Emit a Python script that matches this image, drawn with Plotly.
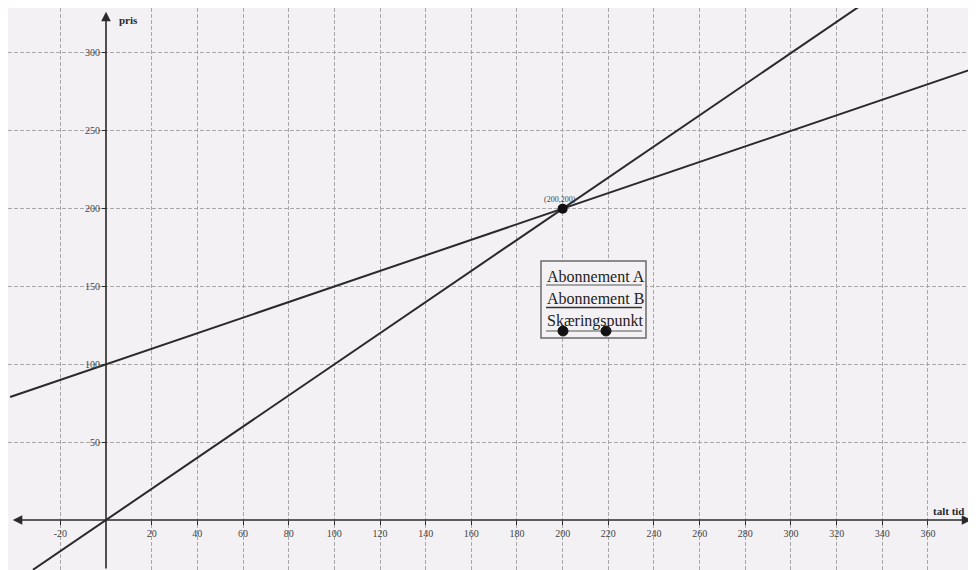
import plotly.graph_objects as go

# ---- data ----
x_ticks = [-20, 20, 40, 60, 80, 100, 120, 140, 160, 180, 200, 220, 240, 260, 280, 300, 320, 340, 360]
y_ticks = [50, 100, 150, 200, 250, 300]

abon_a_x = [-42, 382]
abon_a_y = [79, 291]
abon_b_x = [-32, 336]
abon_b_y = [-32, 336]

skaering_x = [200]
skaering_y = [200]
skaering_label = "(200,200)"

legend_labels = ["Abonnement A", "Abonnement B", "Skæringspunkt"]
x_title = "talt tid"
y_title = "pris"

# the page body has an 8px margin; the figure fills the rest of the window
OFF = 8
W, H = 976 - OFF, 570 - OFF
X0PX, XSC = 106.0, 2.2833   # window px of x=0, px per unit
Y0PX, YSC = 520.0, 1.5567   # window px of y=0, px per unit
XR = [(OFF - X0PX) / XSC, (976 - X0PX) / XSC]
YR = [(Y0PX - 570) / YSC, (Y0PX - OFF) / YSC]

BG = "#f3f1f4"
INK = "#2a2a2a"
GRID = "#a8a8a8"
SERIF = "Liberation Serif, Times New Roman, serif"

def pxp(p):   # window pixel x -> paper
    return (p - OFF) / W

def pyp(p):   # window pixel y -> paper
    return 1 - (p - OFF) / H

fig = go.Figure()

fig.add_trace(go.Scatter(x=abon_a_x, y=abon_a_y, mode="lines", name=legend_labels[0],
                         line=dict(color=INK, width=2), showlegend=False, hoverinfo="skip"))
fig.add_trace(go.Scatter(x=abon_b_x, y=abon_b_y, mode="lines", name=legend_labels[1],
                         line=dict(color=INK, width=2), showlegend=False, hoverinfo="skip"))
fig.add_trace(go.Scatter(x=skaering_x, y=skaering_y, mode="markers", name=legend_labels[2],
                         marker=dict(color="#111", size=10), showlegend=False, hoverinfo="skip"))

annotations = []
# axis lines with arrows
annotations.append(dict(x=379.0, y=0, ax=-41.5, ay=0, xref="x", yref="y", axref="x", ayref="y",
                        showarrow=True, arrowhead=2, arrowside="end+start", arrowsize=1.2,
                        arrowwidth=1.6, arrowcolor=INK, text=""))
annotations.append(dict(x=0, y=326.5, ax=0, ay=YR[0], xref="x", yref="y", axref="x", ayref="y",
                        showarrow=True, arrowhead=2, arrowsize=1.2, arrowwidth=1.6,
                        arrowcolor=INK, text=""))
# axis titles
annotations.append(dict(x=pxp(117), y=pyp(20), xref="paper", yref="paper", text="<b>" + y_title + "</b>",
                        showarrow=False, xanchor="left", yanchor="middle",
                        font=dict(family=SERIF, size=11, color=INK)))
annotations.append(dict(x=pxp(966), y=pyp(511), xref="paper", yref="paper", text="<b>" + x_title + "</b>",
                        showarrow=False, xanchor="right", yanchor="middle",
                        font=dict(family=SERIF, size=11, color=INK)))
# point label
annotations.append(dict(x=skaering_x[0], y=skaering_y[0], xref="x", yref="y", text=skaering_label,
                        showarrow=False, xanchor="center", yanchor="bottom", xshift=-3, yshift=3,
                        font=dict(family=SERIF, size=8, color="#444")))

shapes = []
# legend box
bx0, bx1, by0, by1 = 541, 646, 261, 338
shapes.append(dict(type="rect", xref="paper", yref="paper", x0=pxp(bx0), x1=pxp(bx1),
                   y0=pyp(by1), y1=pyp(by0), line=dict(color="#6a6a6a", width=1.5),
                   fillcolor=BG, layer="above"))
rows = [(276.5, 285.0, "#8a8a8a"), (298.5, 307.5, "#333333"), (320.5, 331.0, "#8a8a8a")]
for (ty, ly, lc), lab in zip(rows, legend_labels):
    annotations.append(dict(x=pxp(545), y=pyp(ty), xref="paper", yref="paper", text=lab,
                            showarrow=False, xanchor="left", yanchor="middle",
                            font=dict(family=SERIF, size=16, color="#222")))
    shapes.append(dict(type="line", xref="paper", yref="paper", x0=pxp(546), x1=pxp(642),
                       y0=pyp(ly), y1=pyp(ly), line=dict(color=lc, width=1.5), layer="above"))
for cx in (563, 606):
    r = 5
    shapes.append(dict(type="circle", xref="paper", yref="paper", x0=pxp(cx - r), x1=pxp(cx + r),
                       y0=pyp(331 + r), y1=pyp(331 - r),
                       line=dict(color="#111", width=1), fillcolor="#111", layer="above"))

axis_common = dict(showgrid=True, gridcolor=GRID, griddash="4px,2px", gridwidth=1,
                   zeroline=False, showline=False, ticks="outside", ticklen=4, tickcolor=INK,
                   tickfont=dict(family=SERIF, size=10, color="#444"), fixedrange=True)

fig.update_layout(
    width=W, height=H, margin=dict(l=0, r=0, t=0, b=0),
    paper_bgcolor=BG, plot_bgcolor=BG, showlegend=False,
    annotations=annotations, shapes=shapes,
    xaxis=dict(range=XR, tickvals=x_ticks, ticktext=[str(v) for v in x_ticks],
               anchor="free", position=(0 - YR[0]) / (YR[1] - YR[0]), side="bottom", **axis_common),
    yaxis=dict(range=YR, tickvals=y_ticks, ticktext=[str(v) for v in y_ticks],
               anchor="free", position=(0 - XR[0]) / (XR[1] - XR[0]), side="left", **axis_common),
)

fig.write_html("out.html")
